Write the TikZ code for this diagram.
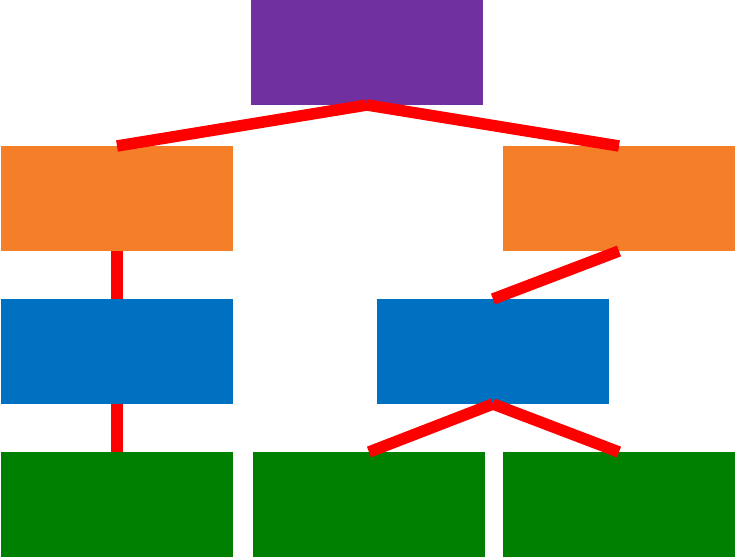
\documentclass[tikz,border=0pt]{standalone}
\definecolor{cpurple}{HTML}{7030A0}
\definecolor{corange}{HTML}{F57F29}
\definecolor{cblue}{HTML}{0070C0}
\definecolor{cgreen}{HTML}{008000}
\definecolor{cred}{HTML}{FF0000}
\begin{document}
\begin{tikzpicture}[x=1pt,y=-1pt,
  box/.style={minimum width=232pt,minimum height=105pt,inner sep=0pt,outer sep=0pt,draw=none},
  link/.style={draw=cred,line width=11.5pt}]
\useasboundingbox (0,0) rectangle (736,558);
\node[box,fill=cpurple] (p) at (367,52.5) {};
\node[box,fill=corange] (ol) at (117,198.5) {};
\node[box,fill=corange] (or) at (619,198.5) {};
\node[box,fill=cblue] (bl) at (117,351.5) {};
\node[box,fill=cblue] (br) at (493,351.5) {};
\node[box,fill=cgreen] (g1) at (117,504.5) {};
\node[box,fill=cgreen] (g2) at (369,504.5) {};
\node[box,fill=cgreen] (g3) at (619,504.5) {};
\draw[link] (p.south) -- (ol.north);
\draw[link] (p.south) -- (or.north);
\draw[link] (ol.south) -- (bl.north);
\draw[link] (or.south) -- (br.north);
\draw[link] (bl.south) -- (g1.north);
\draw[link] (br.south) -- (g2.north);
\draw[link] (br.south) -- (g3.north);
\end{tikzpicture}
\end{document}
